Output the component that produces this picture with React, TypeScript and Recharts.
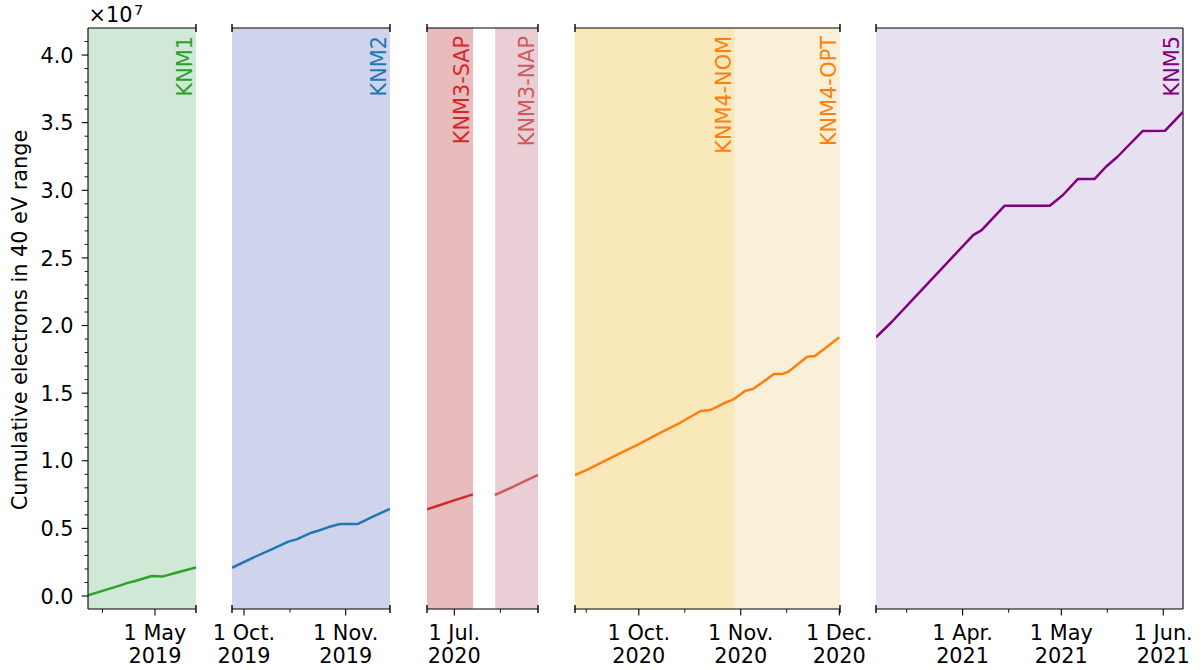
import React from 'react';
import { LineChart, Line, XAxis, YAxis, ReferenceArea, ReferenceLine, ReferenceDot } from 'recharts';

const FONT = '"DejaVu Sans", "Liberation Sans", sans-serif';
const FS = 20.8;
const AXIS_COLOR = '#000000';

const day = (s: string) => Date.parse(s) / 86400000;

// ---------- Y axis (values in units of 1e7 electrons) ----------
const yDomain: [number, number] = [-0.096, 4.2];
const yMajorTicks = [0, 0.5, 1.0, 1.5, 2.0, 2.5, 3.0, 3.5, 4.0];
const yMajorLabels = ['0.0', '0.5', '1.0', '1.5', '2.0', '2.5', '3.0', '3.5', '4.0'];
const yMinorTicks = [0.1, 0.2, 0.3, 0.4, 0.6, 0.7, 0.8, 0.9, 1.1, 1.2, 1.3, 1.4, 1.6, 1.7, 1.8, 1.9, 2.1, 2.2, 2.3, 2.4, 2.6, 2.7, 2.8, 2.9, 3.1, 3.2, 3.3, 3.4, 3.6, 3.7, 3.8, 3.9, 4.1];
const yTitle = 'Cumulative electrons in 40 eV range';

// ---------- Series ----------
const knm1Dates = ['2019-04-10T14:00Z', '2019-04-15T00:00Z', '2019-04-20T00:00Z', '2019-04-22T16:00Z', '2019-04-25T00:00Z', '2019-04-30T00:00Z', '2019-05-03T12:00Z', '2019-05-08T00:00Z', '2019-05-13T12:00Z'];
const knm1Values = [0.006, 0.038, 0.075, 0.097, 0.111, 0.148, 0.145, 0.176, 0.212];

const knm2Dates = ['2019-09-27T08:00Z', '2019-10-03T08:00Z', '2019-10-09T10:00Z', '2019-10-14T12:00Z', '2019-10-17T00:00Z', '2019-10-21T14:00Z', '2019-10-23T14:00Z', '2019-10-26T14:00Z', '2019-10-30T05:00Z', '2019-11-04T14:00Z', '2019-11-08T19:00Z', '2019-11-14T12:00Z'];
const knm2Values = [0.209, 0.279, 0.345, 0.402, 0.419, 0.468, 0.483, 0.508, 0.532, 0.532, 0.582, 0.645];

const knm3SapDates = ['2020-06-22T17:00Z', '2020-06-26T17:00Z', '2020-06-30T17:00Z', '2020-07-06T15:00Z'];
const knm3SapValues = [0.641, 0.673, 0.705, 0.752];

const knm3NapDates = ['2020-07-13T08:00Z', '2020-07-18T22:00Z', '2020-07-26T10:00Z'];
const knm3NapValues = [0.747, 0.808, 0.895];

const knm4Dates = ['2020-09-11T14:00Z', '2020-09-15T05:00Z', '2020-09-24T07:00Z', '2020-09-30T10:00Z', '2020-10-08T12:00Z', '2020-10-13T14:00Z', '2020-10-19T19:00Z', '2020-10-22T17:00Z', '2020-10-27T05:00Z', '2020-10-29T19:00Z', '2020-11-02T07:00Z', '2020-11-04T17:00Z', '2020-11-08T22:00Z', '2020-11-11T02:00Z', '2020-11-13T12:00Z', '2020-11-15T12:00Z', '2020-11-21T05:00Z', '2020-11-23T14:00Z', '2020-11-27T02:00Z', '2020-12-01T00:00Z'];
const knm4Values = [0.895, 0.932, 1.043, 1.116, 1.22, 1.281, 1.368, 1.375, 1.429, 1.454, 1.516, 1.531, 1.602, 1.641, 1.641, 1.658, 1.769, 1.775, 1.839, 1.913];

const knm5Dates = ['2021-03-05T16:00Z', '2021-03-10T12:00Z', '2021-03-19T02:00Z', '2021-04-04T05:00Z', '2021-04-06T19:00Z', '2021-04-13T19:00Z', '2021-04-27T12:00Z', '2021-05-01T12:00Z', '2021-05-06T00:00Z', '2021-05-11T02:00Z', '2021-05-14T14:00Z', '2021-05-18T02:00Z', '2021-05-25T17:00Z', '2021-06-01T12:00Z', '2021-06-07T00:00Z'];
const knm5Values = [1.913, 2.028, 2.25, 2.669, 2.706, 2.886, 2.886, 2.965, 3.083, 3.083, 3.174, 3.248, 3.438, 3.44, 3.58];

// ---------- Campaign bands ----------
const bandNames = ['KNM1', 'KNM2', 'KNM3-SAP', 'KNM3-NAP', 'KNM4-NOM', 'KNM4-OPT', 'KNM5'];
const bandStarts = ['2019-04-10T14:00Z', '2019-09-27T08:00Z', '2020-06-22T17:00Z', '2020-07-13T10:00Z', '2020-09-11T14:00Z', '2020-10-30T05:00Z', '2021-03-05T16:00Z'];
const bandEnds = ['2019-05-13T12:00Z', '2019-11-14T12:00Z', '2020-07-06T17:00Z', '2020-07-26T10:00Z', '2020-10-30T05:00Z', '2020-12-01T05:00Z', '2021-06-07T00:00Z'];
const bandFills = ['#cfe9d6', '#cfd4ec', '#e8bbbc', '#e9cfd5', '#f9e8b9', '#faf0d7', '#e6e0f1'];
const bandTextColors = ['#2ca02c', '#1f77b4', '#d62728', '#cd5c5c', '#ff7f0e', '#ff7f0e', '#800080'];

// ---------- Panel x ranges & ticks ----------
const panelStarts = ['2019-04-10T14:00Z', '2019-09-27T08:00Z', '2020-06-22T17:00Z', '2020-09-11T14:00Z', '2021-03-05T16:00Z'];
const panelEnds = ['2019-05-13T12:00Z', '2019-11-14T12:00Z', '2020-07-26T10:00Z', '2020-12-01T05:00Z', '2021-06-07T00:00Z'];
const panelMajorTicks = [
  ['2019-05-01'],
  ['2019-10-01', '2019-11-01'],
  ['2020-07-01'],
  ['2020-10-01', '2020-11-01', '2020-12-01'],
  ['2021-04-01', '2021-05-01', '2021-06-01'],
];
const panelMajorLabels = [
  [['1 May', '2019']],
  [['1 Oct.', '2019'], ['1 Nov.', '2019']],
  [['1 Jul.', '2020']],
  [['1 Oct.', '2020'], ['1 Nov.', '2020'], ['1 Dec.', '2020']],
  [['1 Apr.', '2021'], ['1 May', '2021'], ['1 Jun.', '2021']],
];
const panelMinorTicks = [
  ['2019-04-15'],
  ['2019-10-15'],
  ['2020-07-15'],
  ['2020-09-15', '2020-10-15', '2020-11-15'],
  ['2021-03-15', '2021-04-15', '2021-05-15'],
];

// layout (pixels)
const panelLeftPx = [88, 232, 427, 575, 876];
const panelWidthPx = [108, 158, 111, 265, 307];
const PLOT_TOP = 28;
const PLOT_BOTTOM = 609;
const H = 670;

type Series = { data: { t: number; v: number }[]; color: string };

const mk = (d: string[], v: number[]) => d.map((s, i) => ({ t: day(s), v: v[i] }));

const panelSeries: Series[][] = [
  [{ data: mk(knm1Dates, knm1Values), color: '#2ca02c' }],
  [{ data: mk(knm2Dates, knm2Values), color: '#1f77b4' }],
  [
    { data: mk(knm3SapDates, knm3SapValues), color: '#d62728' },
    { data: mk(knm3NapDates, knm3NapValues), color: '#cd5c5c' },
  ],
  [{ data: mk(knm4Dates, knm4Values), color: '#ff7f0e' }],
  [{ data: mk(knm5Dates, knm5Values), color: '#800080' }],
];
const panelBands = [[0], [1], [2, 3], [4, 5], [6]];

const near = (a: number, b: number) => Math.abs(a - b) < 1e-6;

function Panel({ idx }: { idx: number }) {
  const showY = idx === 0;
  const isLast = idx === 4;
  const yw = showY ? 88 : 0;
  const ml = showY ? 0 : 45;
  const mr = 45;
  const width = panelWidthPx[idx];
  const chartW = yw + ml + width + mr;
  const chartLeft = panelLeftPx[idx] - yw - ml;
  const x0 = day(panelStarts[idx]);
  const x1 = day(panelEnds[idx]);
  const majors = panelMajorTicks[idx].map(day);
  const labels = panelMajorLabels[idx];
  const minors = panelMinorTicks[idx].map(day);
  const allTicks = [...majors, ...minors].sort((a, b) => a - b);

  const xTick = (p: any) => {
    const { x, y, payload } = p;
    const mi = majors.findIndex((m) => near(m, payload.value));
    if (mi >= 0) {
      const lab = labels[mi];
      return (
        <g>
          <line x1={x} x2={x} y1={y} y2={y + 6.5} stroke={AXIS_COLOR} strokeWidth={1.1} />
          <text textAnchor="middle" fontFamily={FONT} fontSize={FS} fill="#000">
            <tspan x={x} y={y + 31}>{lab[0]}</tspan>
            <tspan x={x} y={y + 54}>{lab[1]}</tspan>
          </text>
        </g>
      );
    }
    return <line x1={x} x2={x} y1={y} y2={y + 3.8} stroke={AXIS_COLOR} strokeWidth={0.9} />;
  };

  const yTick = (p: any) => {
    const { x, y, payload } = p;
    const mi = yMajorTicks.findIndex((m) => near(m, payload.value));
    if (mi >= 0) {
      return (
        <g>
          <line x1={x - 6.3} x2={x} y1={y} y2={y} stroke={AXIS_COLOR} strokeWidth={1.1} />
          <text x={x - 14.5} y={y + 7.6} textAnchor="end" fontFamily={FONT} fontSize={FS} fill="#000">
            {yMajorLabels[mi]}
          </text>
        </g>
      );
    }
    return <line x1={x - 3.5} x2={x} y1={y} y2={y} stroke={AXIS_COLOR} strokeWidth={0.9} />;
  };

  const breakMark = (p: any) => (
    <line x1={p.cx} x2={p.cx} y1={p.cy - 4} y2={p.cy + 4} stroke={AXIS_COLOR} strokeWidth={1.4} />
  );

  const breaks: number[] = [];
  if (idx !== 0) breaks.push(x0);
  if (!isLast) breaks.push(x1);

  return (
    <div style={{ position: 'absolute', left: chartLeft, top: 0 }}>
      <LineChart
        width={chartW}
        height={H}
        margin={{ top: PLOT_TOP, right: mr, bottom: 0, left: ml }}
      >
        <XAxis
          type="number"
          dataKey="t"
          domain={[x0, x1]}
          allowDataOverflow
          ticks={allTicks}
          interval={0}
          tickSize={0}
          tickMargin={0}
          tickLine={false}
          axisLine={{ stroke: AXIS_COLOR, strokeWidth: 1.1 }}
          height={H - PLOT_BOTTOM}
          tick={xTick}
        />
        {showY ? (
          <YAxis
            type="number"
            domain={yDomain}
            allowDataOverflow
            ticks={[...yMajorTicks, ...yMinorTicks].sort((a, b) => a - b)}
            interval={0}
            tickSize={0}
            tickMargin={0}
            tickLine={false}
            axisLine={{ stroke: AXIS_COLOR, strokeWidth: 1.1 }}
            width={yw}
            tick={yTick}
          />
        ) : (
          <YAxis type="number" domain={yDomain} allowDataOverflow hide width={0} />
        )}
        {panelBands[idx].map((b) => (
          <ReferenceArea
            key={'band' + b}
            x1={day(bandStarts[b])}
            x2={day(bandEnds[b])}
            fill={bandFills[b]}
            fillOpacity={1}
            stroke="none"
            ifOverflow="visible"
          />
        ))}
        <ReferenceLine y={yDomain[1]} stroke={AXIS_COLOR} strokeWidth={1.1} ifOverflow="visible" />
        {isLast && <ReferenceLine x={x1} stroke={AXIS_COLOR} strokeWidth={1.1} ifOverflow="visible" />}
        {panelSeries[idx].map((s, i) => (
          <Line
            key={'s' + i}
            data={s.data}
            dataKey="v"
            type="linear"
            stroke={s.color}
            strokeWidth={2.5}
            strokeLinejoin="round"
            strokeLinecap="butt"
            dot={false}
            activeDot={false}
            isAnimationActive={false}
          />
        ))}
        {breaks.map((bx, i) => (
          <ReferenceDot key={'bt' + i} x={bx} y={yDomain[1]} ifOverflow="visible" shape={breakMark} />
        ))}
        {breaks.map((bx, i) => (
          <ReferenceDot key={'bb' + i} x={bx} y={yDomain[0]} ifOverflow="visible" shape={breakMark} />
        ))}
        {panelBands[idx].map((b) => (
          <ReferenceDot
            key={'lab' + b}
            x={day(bandEnds[b])}
            y={yDomain[1]}
            ifOverflow="visible"
            shape={(p: any) => (
              <text
                x={p.cx - 4}
                y={p.cy + 8}
                transform={`rotate(-90 ${p.cx - 4} ${p.cy + 8})`}
                textAnchor="end"
                fontFamily={FONT}
                fontSize={FS}
                fill={bandTextColors[b]}
              >
                {bandNames[b]}
              </text>
            )}
          />
        ))}
      </LineChart>
    </div>
  );
}

export default function App() {
  return (
    <div style={{ position: 'absolute', left: 0, top: 0, width: 1203, height: H, background: '#fff', overflow: 'hidden' }}>
      {[0, 1, 2, 3, 4].map((i) => (
        <Panel key={i} idx={i} />
      ))}
      <svg width={1203} height={H} style={{ position: 'absolute', left: 0, top: 0, pointerEvents: 'none' }}>
        <text x={88.5} y={22} fontFamily={FONT} fontSize={FS} fill="#000">
          ×10
          <tspan dx={1.5} dy={-7.5} fontSize={14.6}>7</tspan>
        </text>
        <text
          x={26.5}
          y={320}
          transform="rotate(-90 26.5 320)"
          textAnchor="middle"
          fontFamily={FONT}
          fontSize={FS}
          fill="#000"
        >
          {yTitle}
        </text>
      </svg>
    </div>
  );
}
